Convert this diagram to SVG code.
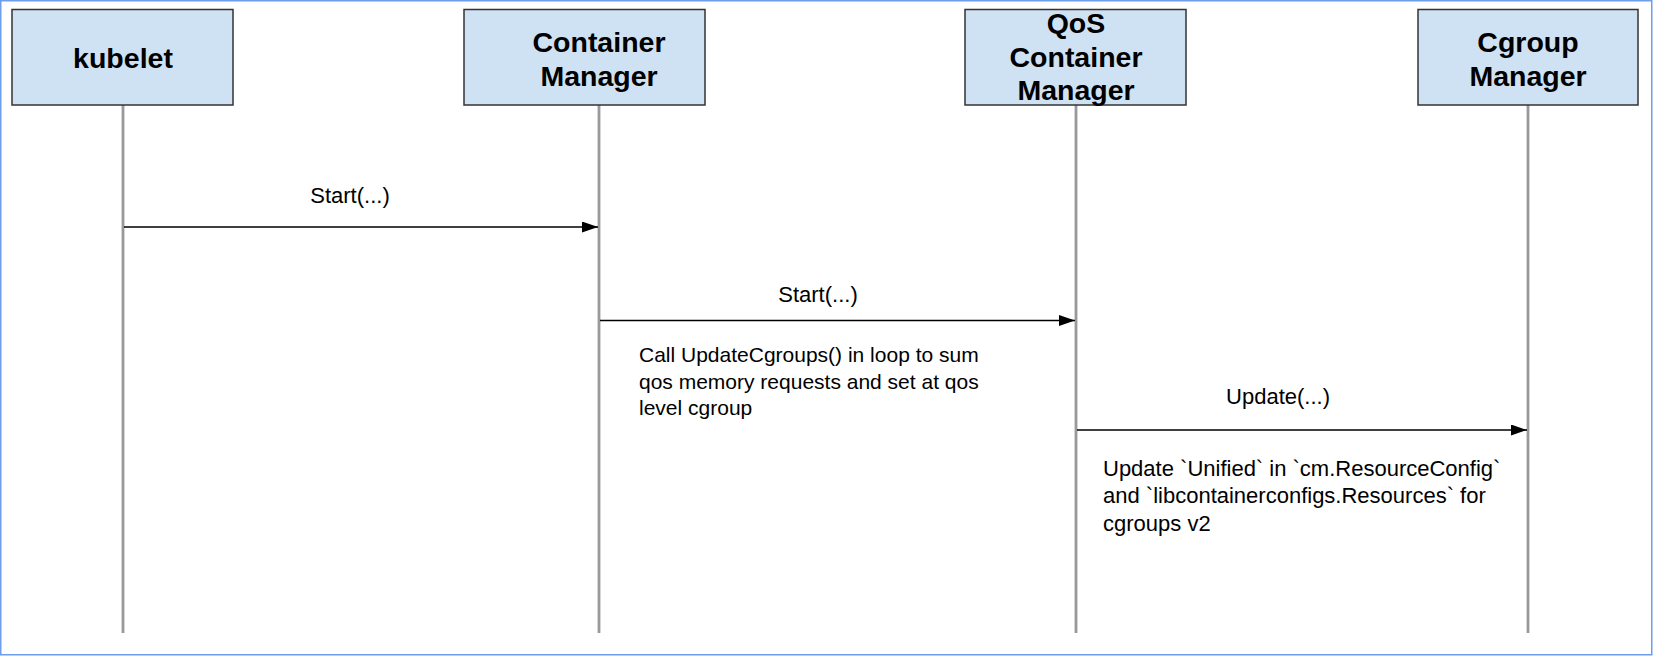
<svg xmlns="http://www.w3.org/2000/svg" width="1653" height="656" viewBox="0 0 1653 656">
<style>
.box{fill:#cfe2f3;stroke:#333333;stroke-width:1.5}
.title{font-family:"Liberation Sans",Arial,sans-serif;font-weight:bold;font-size:28.5px;fill:#000;text-anchor:middle}
.life{stroke:#999999;stroke-width:2.8;fill:none}
.msg{stroke:#000;stroke-width:1.5;fill:none;marker-end:url(#ah)}
.lbl{font-family:"Liberation Sans",Arial,sans-serif;font-size:22px;fill:#000}
.n1{font-size:21px}
</style>
<defs>
<marker id="ah" viewBox="0 0 16 11" refX="16" refY="5.5" markerWidth="16" markerHeight="11" markerUnits="userSpaceOnUse" orient="auto">
<path d="M0,0 L16,5.5 L0,11 Z" fill="#000"/>
</marker>
</defs>
<rect x="0.75" y="0.75" width="1651" height="654" fill="#ffffff" stroke="#6d9eeb" stroke-width="1.5"/>
<g id="lifelines">
<line class="life" x1="123" y1="105" x2="123" y2="633"/>
<line class="life" x1="599" y1="105" x2="599" y2="633"/>
<line class="life" x1="1076" y1="105" x2="1076" y2="633"/>
<line class="life" x1="1528" y1="105" x2="1528" y2="633"/>
</g>
<g id="kubelet">
<rect class="box" x="12" y="9.5" width="221" height="95.5"/>
<text class="title" x="123" y="68">kubelet</text>
</g>
<g id="container-manager">
<rect class="box" x="464" y="9.5" width="241" height="95.5"/>
<text class="title" x="599" y="52">Container</text>
<text class="title" x="599" y="86">Manager</text>
</g>
<g id="qos-container-manager">
<rect class="box" x="965" y="9.5" width="221" height="95.5"/>
<text class="title" x="1076" y="33">QoS</text>
<text class="title" x="1076" y="67">Container</text>
<text class="title" x="1076" y="100">Manager</text>
</g>
<g id="cgroup-manager">
<rect class="box" x="1418" y="9.5" width="220" height="95.5"/>
<text class="title" x="1528" y="52">Cgroup</text>
<text class="title" x="1528" y="86">Manager</text>
</g>
<g id="connectors">
<line class="msg" x1="124" y1="227" x2="598" y2="227"/>
<text class="lbl" x="350" y="203" text-anchor="middle">Start(...)</text>
<line class="msg" x1="600" y1="320.5" x2="1075" y2="320.5"/>
<text class="lbl" x="818" y="302" text-anchor="middle">Start(...)</text>
<line class="msg" x1="1077" y1="430" x2="1527" y2="430"/>
<text class="lbl" x="1278" y="404" text-anchor="middle">Update(...)</text>
</g>
<g id="note-qos">
<text class="lbl n1" x="639" y="362">Call UpdateCgroups() in loop to sum</text>
<text class="lbl n1" x="639" y="388.5">qos memory requests and set at qos</text>
<text class="lbl n1" x="639" y="415">level cgroup</text>
</g>
<g id="note-cgroup">
<text class="lbl" x="1103" y="476">Update `Unified` in `cm.ResourceConfig`</text>
<text class="lbl" x="1103" y="503">and `libcontainerconfigs.Resources` for</text>
<text class="lbl" x="1103" y="531">cgroups v2</text>
</g>
</svg>
